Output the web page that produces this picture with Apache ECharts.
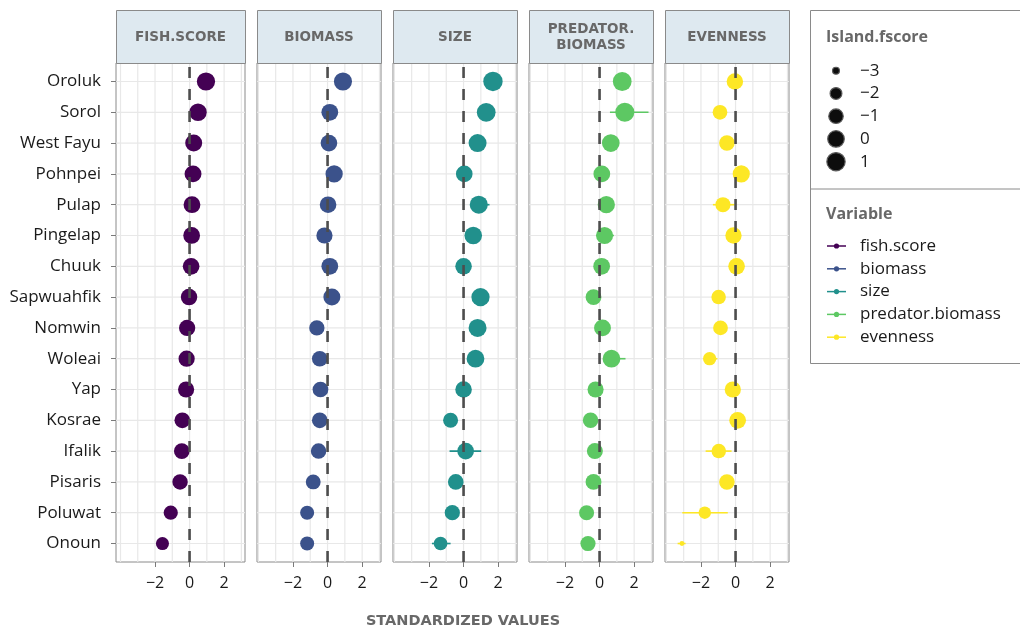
<!DOCTYPE html>
<html>
<head>
<meta charset="utf-8">
<script src="https://cdn.jsdelivr.net/npm/echarts@6/dist/echarts.min.js"></script>
<style>
  html, body { margin: 0; padding: 0; background: #ffffff; }
  #chart { width: 1020px; height: 630px; }
</style>
</head>
<body>
<div id="chart"></div>
<script>
// Islands, top to bottom (ordered by fish score)
const islands = ['Oroluk', 'Sorol', 'West Fayu', 'Pohnpei', 'Pulap', 'Pingelap', 'Chuuk',
  'Sapwuahfik', 'Nomwin', 'Woleai', 'Yap', 'Kosrae', 'Ifalik', 'Pisaris', 'Poluwat', 'Onoun'];

const variables = ['fish.score', 'biomass', 'size', 'predator.biomass', 'evenness'];
const stripLabels = ['FISH.SCORE', 'BIOMASS', 'SIZE', 'PREDATOR.\nBIOMASS', 'EVENNESS'];
const colors = ['#440154', '#3B528B', '#21908C', '#5DC863', '#FDE725'];

// Standardized values per variable (one per island)
const fishScore = [0.95, 0.49, 0.24, 0.20, 0.14, 0.12, 0.09, -0.03, -0.14, -0.17, -0.20, -0.42, -0.45, -0.55, -1.09, -1.57];
const biomass = [0.89, 0.13, 0.08, 0.38, 0.03, -0.18, 0.13, 0.25, -0.62, -0.45, -0.41, -0.45, -0.52, -0.83, -1.18, -1.18];
const size = [1.70, 1.31, 0.81, 0.04, 0.88, 0.56, 0.00, 0.98, 0.81, 0.69, 0.00, -0.75, 0.12, -0.45, -0.65, -1.33];
const predatorBiomass = [1.31, 1.46, 0.65, 0.13, 0.39, 0.29, 0.12, -0.35, 0.17, 0.69, -0.23, -0.52, -0.27, -0.35, -0.75, -0.67];
const evenness = [-0.04, -0.90, -0.50, 0.33, -0.73, -0.12, 0.06, -0.98, -0.87, -1.50, -0.16, 0.12, -0.97, -0.50, -1.78, -3.10];

// Interval ends [low, high]; null where the interval sits inside the point
const fishScoreCI = [null, null, null, null, null, null, null, null, null, null, null, null, null, null, null, null];
const biomassCI = [[0.50, 1.35], null, null, null, null, null, null, null, null, null, null, null, null, null, null, null];
const sizeCI = [null, null, null, null, [0.41, 1.50], null, null, null, null, null, null, null, [-0.81, 1.02], null, null, [-1.83, -0.75]];
const predatorBiomassCI = [null, [0.60, 2.83], null, null, null, [-0.19, 0.83], null, null, null, [0.20, 1.50], null, null, null, null, null, null];
const evennessCI = [null, null, null, null, [-1.31, -0.06], null, null, null, null, [-1.75, -1.05], null, null, [-1.73, -0.23], null, [-3.08, -0.45], [-3.35, -2.89]];

const xTicks = [-2, 0, 2];
const xGridValues = [-4, -3, -2, -1, 0, 1, 2, 3];
const sizeBreaks = [-3, -2, -1, 0, 1];

const panelValues = [fishScore, biomass, size, predatorBiomass, evenness];
const panelCI = [fishScoreCI, biomassCI, sizeCI, predatorBiomassCI, evennessCI];

// Layout
const FONT = '"Open Sans"';
const CAPS_FONT = '"DejaVu Sans"';
const panelLeft = [116, 257, 393, 529, 665];
const panelWidth = [129, 124, 124, 124, 124];
const xMin = [-4.26, -4.08, -4.08, -4.08, -4.08];
const xMax = [3.21, 3.09, 3.09, 3.09, 3.09];
const plotTop = 63, plotHeight = 499, stripTop = 10;
const yMin = -0.6, yMax = islands.length - 1 + 0.6;
const rowIdx = islands.map((_, i) => i);

// Point size: area-style mapping of the plotted value
const allValues = [].concat(...panelValues);
const sizeDomain = [Math.min(...allValues), Math.max(...allValues)];
function sizeScale(v) {
  const t = Math.max(0, (v - sizeDomain[0]) / (sizeDomain[1] - sizeDomain[0]));
  return 4.8 + 14.6 * Math.sqrt(t);
}
const fmtNum = v => (v < 0 ? '\u2212' + Math.abs(v) : String(v));

const grid = [], xAxis = [], yAxis = [], series = [], graphic = [];

panelValues.forEach((vals, p) => {
  grid.push({
    left: panelLeft[p], top: plotTop, width: panelWidth[p], height: plotHeight,
    show: true, borderColor: '#8a8a8a', borderWidth: 1, backgroundColor: 'transparent'
  });
  xAxis.push({
    gridIndex: p, type: 'value', min: xMin[p], max: xMax[p], position: 'bottom',
    axisLine: { show: false, onZero: false },
    axisTick: { show: true, customValues: xTicks, length: 5, lineStyle: { color: '#7a7a7a', width: 1 } },
    axisLabel: { customValues: xTicks, formatter: fmtNum, fontSize: 16, color: '#1a1a1a', fontFamily: FONT, margin: 13 },
    splitLine: { show: false }
  });
  yAxis.push({
    gridIndex: p, type: 'value', inverse: true, min: yMin, max: yMax, position: 'left',
    axisLine: { show: false, onZero: false },
    axisTick: { show: p === 0, customValues: rowIdx, length: 5, lineStyle: { color: '#7a7a7a', width: 1 } },
    axisLabel: { show: p === 0, customValues: rowIdx, formatter: v => islands[v], fontSize: 17, color: '#1a1a1a', fontFamily: FONT, margin: 15 },
    splitLine: { show: false }
  });

  // light grid: vertical lines at every integer, horizontal lines at every island
  series.push({
    type: 'custom', xAxisIndex: p, yAxisIndex: p, silent: true, z: 0,
    data: xGridValues.map(v => [v]),
    encode: { x: 0 },
    renderItem: (params, api) => {
      const cs = params.coordSys;
      const x = api.coord([api.value(0), 0])[0];
      return { type: 'line', shape: { x1: x, y1: cs.y, x2: x, y2: cs.y + cs.height },
        style: { stroke: '#e8e8e8', lineWidth: 1.2 } };
    }
  });
  series.push({
    type: 'custom', xAxisIndex: p, yAxisIndex: p, silent: true, z: 0,
    data: rowIdx.map(i => [i]),
    encode: { y: 0 },
    renderItem: (params, api) => {
      const cs = params.coordSys;
      const y = api.coord([0, api.value(0)])[1];
      return { type: 'line', shape: { x1: cs.x, y1: y, x2: cs.x + cs.width, y2: y },
        style: { stroke: '#e8e8e8', lineWidth: 1.2 } };
    }
  });

  // interval bars
  const ci = panelCI[p];
  series.push({
    type: 'custom', xAxisIndex: p, yAxisIndex: p, silent: true, z: 2,
    data: ci.map((c, i) => (c ? [c[0], c[1], i] : null)).filter(Boolean),
    encode: { x: [0, 1], y: 2 },
    renderItem: (params, api) => {
      const a = api.coord([api.value(0), api.value(2)]);
      const b = api.coord([api.value(1), api.value(2)]);
      return { type: 'line', shape: { x1: a[0], y1: a[1], x2: b[0], y2: b[1] },
        style: { stroke: colors[p], lineWidth: 1.6 } };
    }
  });

  // points
  series.push({
    type: 'scatter', name: variables[p], xAxisIndex: p, yAxisIndex: p, z: 3, silent: true,
    data: vals.map((v, i) => [v, i]),
    symbol: 'circle',
    symbolSize: d => sizeScale(d[0]),
    itemStyle: { color: colors[p], opacity: 1 }
  });

  // dashed reference line at zero
  series.push({
    type: 'custom', xAxisIndex: p, yAxisIndex: p, silent: true, z: 4,
    data: [[0]],
    encode: { x: 0 },
    renderItem: (params, api) => {
      const cs = params.coordSys;
      const x = api.coord([api.value(0), 0])[0];
      return { type: 'line', shape: { x1: x, y1: cs.y + cs.height, x2: x, y2: cs.y },
        style: { stroke: '#4d4d4d', lineWidth: 2.6, lineDash: [11, 11] } };
    }
  });

  // strip header
  graphic.push({
    type: 'rect', left: panelLeft[p], top: stripTop, silent: true, z: 10,
    shape: { width: panelWidth[p], height: plotTop - stripTop },
    style: { fill: '#dee9f0', stroke: '#8a8a8a', lineWidth: 1 }
  });
  graphic.push({
    type: 'text', silent: true, z: 11,
    x: panelLeft[p] + panelWidth[p] / 2, y: (stripTop + plotTop) / 2 + 0.5,
    style: { text: stripLabels[p], fill: '#686868', font: 'bold 13.5px ' + CAPS_FONT,
      align: 'center', verticalAlign: 'middle', lineHeight: 16 }
  });
});

// axis title
graphic.push({
  type: 'text', silent: true, x: 463, y: 621,
  style: { text: 'STANDARDIZED VALUES', fill: '#686868', font: 'bold 14.5px ' + CAPS_FONT,
    align: 'center', verticalAlign: 'middle' }
});

// legend panel
graphic.push({
  type: 'rect', left: 810, top: 10, silent: true,
  shape: { width: 220, height: 353 },
  style: { fill: '#ffffff', stroke: '#8a8a8a', lineWidth: 1 }
});
graphic.push({
  type: 'line', silent: true,
  shape: { x1: 810, y1: 189, x2: 1020, y2: 189 },
  style: { stroke: '#8a8a8a', lineWidth: 1 }
});
graphic.push({
  type: 'text', silent: true, x: 826, y: 37,
  style: { text: 'Island.fscore', fill: '#686868', font: 'bold 16px ' + FONT, verticalAlign: 'middle' }
});
sizeBreaks.forEach((b, k) => {
  const cy = 70.7 + k * 22.75;
  graphic.push({
    type: 'circle', silent: true,
    shape: { cx: 836, cy: cy, r: sizeScale(b) / 2 },
    style: { fill: '#0d0d0d', stroke: '#5a5a5a', lineWidth: 1.2 }
  });
  graphic.push({
    type: 'text', silent: true, x: 860, y: cy,
    style: { text: fmtNum(b), fill: '#1a1a1a', font: '17px ' + FONT, verticalAlign: 'middle' }
  });
});
graphic.push({
  type: 'text', silent: true, x: 826, y: 214,
  style: { text: 'Variable', fill: '#686868', font: 'bold 16px ' + FONT, verticalAlign: 'middle' }
});
variables.forEach((v, k) => {
  const cy = 246 + k * 22.8;
  graphic.push({
    type: 'line', silent: true,
    shape: { x1: 827, y1: cy, x2: 846, y2: cy },
    style: { stroke: colors[k], lineWidth: 1.5 }
  });
  graphic.push({
    type: 'circle', silent: true,
    shape: { cx: 836.5, cy: cy, r: 2.6 },
    style: { fill: colors[k] }
  });
  graphic.push({
    type: 'text', silent: true, x: 860, y: cy,
    style: { text: v, fill: '#1a1a1a', font: '17px ' + FONT, verticalAlign: 'middle' }
  });
});

const chart = echarts.init(document.getElementById('chart'), null, { renderer: 'canvas' });
chart.setOption({
  animation: false,
  backgroundColor: '#ffffff',
  textStyle: { fontFamily: 'Open Sans' },
  grid, xAxis, yAxis, series, graphic
});
</script>
</body>
</html>
